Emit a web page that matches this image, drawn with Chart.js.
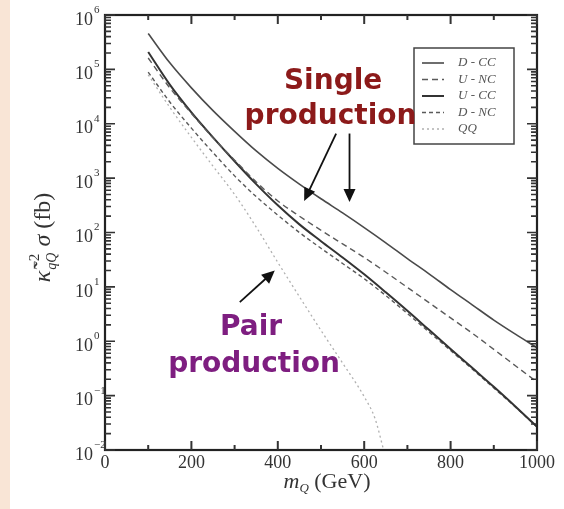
<!DOCTYPE html>
<html>
<head>
<meta charset="utf-8">
<script src="https://cdn.jsdelivr.net/npm/chart.js@4"></script>
<style>
html,body{margin:0;padding:0;background:#ffffff;}
#wrap{position:relative;width:564px;height:509px;}
#strip{position:absolute;left:0;top:0;width:10px;height:509px;background:#f9e5d6;}
canvas{position:absolute;left:0;top:0;}
</style>
</head>
<body>
<div id="wrap"><div id="strip"></div><canvas id="c" width="564" height="509"></canvas></div>
<script>
// ---- data ----
const massGeV = [100,150,200,250,300,350,400,450,500,550,600,650,700,750,800,850,900,950,1000];
const sigmaDCC = [457000,131800,45700,17400,7240,3160,1510,776,417,229,123,64.6,33.1,17.4,8.91,4.68,2.45,1.35,0.76];
const sigmaUNC = [162000,45700,15500,5500,2140,851,380,200,110,61.7,34.7,18.6,9.77,5.13,2.69,1.41,0.708,0.355,0.178];
const sigmaUCC = [209000,52500,16200,5620,2040,776,316,141,69.2,34.7,17.0,7.94,3.63,1.62,0.724,0.324,0.145,0.0631,0.0269];
const sigmaDNC = [89100,25100,8320,2950,1100,457,209,100,51.3,26.9,14.1,6.92,3.24,1.48,0.676,0.309,0.138,0.0617,0.0263];
const massPair = [100,150,200,250,300,350,400,450,500,550,600,625,645];
const sigmaQQ  = [79400,20000,5620,1660,501,126,28.2,6.61,1.58,0.398,0.0955,0.038,0.0100];
const xTickValues = [0,200,400,600,800,1000];
const yTickExponents = [6,5,4,3,2,1,0,-1,-2];
const seriesLabels = ['D - CC','U - NC','U - CC','D - NC','QQ'];

const pts = (xs, ys) => xs.map((x,i)=>({x:x,y:ys[i]}));
const styles = [
  {color:'#4a4a4a', width:1.6, dash:[]},
  {color:'#5a5a5a', width:1.4, dash:[6,4]},
  {color:'#333333', width:2.0, dash:[]},
  {color:'#5a5a5a', width:1.4, dash:[4,3]},
  {color:'#b0b0b0', width:1.3, dash:[2,3]}
];
const seriesData = [pts(massGeV,sigmaDCC),pts(massGeV,sigmaUNC),pts(massGeV,sigmaUCC),pts(massGeV,sigmaDNC),pts(massPair,sigmaQQ)];

const SERIF = '"Liberation Serif","DejaVu Serif",serif';

function arrow(ctx,x1,y1,x2,y2){
  const a=Math.atan2(y2-y1,x2-x1), hl=13, hw=6;
  ctx.save();
  ctx.strokeStyle='#111'; ctx.fillStyle='#111'; ctx.lineWidth=1.8;
  ctx.beginPath(); ctx.moveTo(x1,y1); ctx.lineTo(x2-hl*0.8*Math.cos(a),y2-hl*0.8*Math.sin(a)); ctx.stroke();
  ctx.beginPath();
  ctx.moveTo(x2,y2);
  ctx.lineTo(x2-hl*Math.cos(a)+hw*Math.sin(a), y2-hl*Math.sin(a)-hw*Math.cos(a));
  ctx.lineTo(x2-hl*Math.cos(a)-hw*Math.sin(a), y2-hl*Math.sin(a)+hw*Math.cos(a));
  ctx.closePath(); ctx.fill();
  ctx.restore();
}

const decor = {
  id:'decor',
  afterDraw(chart){
    const ctx=chart.ctx, ca=chart.chartArea, xs=chart.scales.x, ys=chart.scales.y;
    ctx.save();
    ctx.setLineDash([]);
    // frame
    ctx.strokeStyle='#222'; ctx.lineWidth=2.2;
    ctx.strokeRect(ca.left,ca.top,ca.right-ca.left,ca.bottom-ca.top);
    // x ticks (inward, top and bottom)
    ctx.strokeStyle='#333'; ctx.lineWidth=2;
    for(let v=0; v<=1000; v+=100){
      const px=xs.getPixelForValue(v), len=(v%200===0)?9:5;
      ctx.beginPath();
      ctx.moveTo(px,ca.bottom); ctx.lineTo(px,ca.bottom-len);
      ctx.moveTo(px,ca.top); ctx.lineTo(px,ca.top+len);
      ctx.stroke();
    }
    // y ticks (inward, left and right)
    ctx.lineWidth=1.6;
    for(let e=-2; e<=6; e++){
      for(let k=1; k<=9; k++){
        if(e===6 && k>1) break;
        const py=ys.getPixelForValue(k*Math.pow(10,e)), len=(k===1)?10:6;
        ctx.beginPath();
        ctx.moveTo(ca.left,py); ctx.lineTo(ca.left+len,py);
        ctx.moveTo(ca.right,py); ctx.lineTo(ca.right-len,py);
        ctx.stroke();
      }
    }
    // y tick labels 10^n
    ctx.fillStyle='#333';
    yTickExponents.forEach(e=>{
      const py=ys.getPixelForValue(Math.pow(10,e));
      ctx.font='18px '+SERIF; ctx.textAlign='right'; ctx.textBaseline='middle';
      ctx.fillText('10', ca.left-12, py+5);
      ctx.font='11px '+SERIF; ctx.textAlign='left';
      ctx.fillText(String(e).replace('-','\u2212'), ca.left-11, py-5);
    });
    // y axis title
    ctx.save();
    ctx.translate(42,238); ctx.rotate(-Math.PI/2);
    ctx.fillStyle='#333'; ctx.textBaseline='alphabetic'; ctx.textAlign='left';
    const parts=[
      {t:'\u03BA\u0303',f:'italic 24px '+SERIF},
      {t:'\u22122',f:'15px '+SERIF},
      {t:'qQ',f:'italic 14px '+SERIF},
      {t:' \u03C3 ',f:'italic 24px '+SERIF},
      {t:'(fb)',f:'24px '+SERIF}
    ];
    parts.forEach(p=>{ctx.font=p.f; p.w=ctx.measureText(p.t).width;});
    const w = parts[0].w + Math.max(parts[1].w,parts[2].w) + parts[3].w + parts[4].w;
    let x=-w/2;
    ctx.font=parts[0].f; ctx.fillText(parts[0].t,x,8); x+=parts[0].w+1;
    ctx.font=parts[1].f; ctx.fillText(parts[1].t,x,-3);
    ctx.font=parts[2].f; ctx.fillText(parts[2].t,x,14);
    x+=Math.max(parts[1].w,parts[2].w);
    ctx.font=parts[3].f; ctx.fillText(parts[3].t,x,8); x+=parts[3].w;
    ctx.font=parts[4].f; ctx.fillText(parts[4].t,x,8);
    ctx.restore();
    // x axis title
    ctx.fillStyle='#333'; ctx.textBaseline='alphabetic'; ctx.textAlign='left';
    ctx.font='italic 22px '+SERIF; const wm=ctx.measureText('m').width;
    ctx.font='italic 13px '+SERIF; const wq=ctx.measureText('Q').width;
    ctx.font='22px '+SERIF; const wg=ctx.measureText(' (GeV)').width;
    let xx=(ca.left+ca.right)/2 - (wm+wq+wg)/2 + 6;
    const by=488;
    ctx.font='italic 22px '+SERIF; ctx.fillText('m',xx,by); xx+=wm;
    ctx.font='italic 13px '+SERIF; ctx.fillText('Q',xx,by+4); xx+=wq;
    ctx.font='22px '+SERIF; ctx.fillText(' (GeV)',xx,by);
    // legend box
    const lx=ca.right-123, ly=ca.top+33, lw=100, lh=96;
    ctx.fillStyle='#fff'; ctx.fillRect(lx,ly,lw,lh);
    ctx.strokeStyle='#444'; ctx.lineWidth=1.5; ctx.strokeRect(lx,ly,lw,lh);
    seriesLabels.forEach((lab,i)=>{
      const yy=ly+15+i*16.5, st=styles[i];
      ctx.strokeStyle=st.color; ctx.lineWidth=st.width; ctx.setLineDash(st.dash);
      ctx.beginPath(); ctx.moveTo(lx+8,yy); ctx.lineTo(lx+30,yy); ctx.stroke();
      ctx.setLineDash([]);
      ctx.fillStyle='#555'; ctx.font='italic 13px '+SERIF; ctx.textBaseline='middle';
      ctx.fillText(lab,lx+44,yy);
    });
    // annotations (positioned in data coordinates)
    const P=(m,s)=>[xs.getPixelForValue(m), ys.getPixelForValue(s)];
    ctx.textAlign='center'; ctx.textBaseline='middle';
    ctx.font='bold 28px "DejaVu Sans",sans-serif';
    ctx.fillStyle='#8c1a1a';
    let q=P(528,Math.pow(10,4.77)); ctx.fillText('Single',q[0],q[1]);
    q=P(522,Math.pow(10,4.13)); ctx.fillText('production',q[0],q[1]);
    ctx.fillStyle='#7e1e80';
    q=P(338,Math.pow(10,0.25)); ctx.fillText('Pair',q[0],q[1]);
    q=P(345,Math.pow(10,-0.43)); ctx.fillText('production',q[0],q[1]);
    let a=P(535,Math.pow(10,3.82)), b=P(461,Math.pow(10,2.58)); arrow(ctx,a[0],a[1],b[0],b[1]);
    a=P(566,Math.pow(10,3.82)); b=P(566,Math.pow(10,2.56)); arrow(ctx,a[0],a[1],b[0],b[1]);
    a=P(312,Math.pow(10,0.72)); b=P(393,Math.pow(10,1.30)); arrow(ctx,a[0],a[1],b[0],b[1]);
    ctx.restore();
  }
};

new Chart(document.getElementById('c'),{
  type:'line',
  data:{
    datasets: seriesLabels.map((lab,i)=>({
      label:lab, data:seriesData[i],
      borderColor:styles[i].color, borderWidth:styles[i].width, borderDash:styles[i].dash,
      pointRadius:0, fill:false, cubicInterpolationMode:'monotone'
    }))
  },
  options:{
    responsive:false, animation:false, devicePixelRatio:1,
    layout:{padding:{left:0,right:27,top:15,bottom:0}},
    plugins:{legend:{display:false}, tooltip:{enabled:false}},
    scales:{
      x:{type:'linear', min:0, max:1000,
         afterBuildTicks:s=>{s.ticks=xTickValues.map(v=>({value:v}));},
         ticks:{font:{family:SERIF,size:18}, color:'#333', padding:2, maxRotation:0,
                callback:v=>String(v)},
         grid:{display:false, drawTicks:false}, border:{display:false},
         afterFit:s=>{s.height=59;}},
      y:{type:'logarithmic', min:0.01, max:1e6,
         afterBuildTicks:s=>{s.ticks=yTickExponents.map(e=>({value:Math.pow(10,e)}));},
         ticks:{display:false},
         grid:{display:false, drawTicks:false}, border:{display:false},
         afterFit:s=>{s.width=105;}}
    }
  },
  plugins:[decor]
});
</script>
</body>
</html>
